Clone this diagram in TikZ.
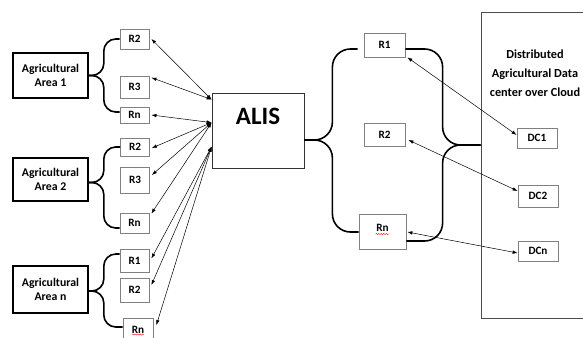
\documentclass[tikz,border=0pt]{standalone}
\usepackage{fontspec}
\setmainfont{Carlito}
\usetikzlibrary{arrows.meta,calc,decorations.pathmorphing}
\begin{document}
\begin{tikzpicture}[x=1pt,y=-1pt,
  areabox/.style={draw=black,line width=1.6pt,minimum width=75pt,minimum height=45pt,inner sep=0pt,align=center,font=\fontsize{11.8}{14}\selectfont\bfseries},
  rbox/.style={draw=black!50,line width=0.8pt,inner sep=0pt,font=\fontsize{11.2}{12}\selectfont\bfseries},
  bracepath/.style={line width=1.6pt,rounded corners=#1},
  bracepath/.default=12pt,
  linkarrow/.style={line width=0.5pt,{Latex[length=5pt,width=3.5pt]}-{Latex[length=5pt,width=3.5pt]}},
  squiggle/.style={red,line width=0.4pt,decorate,decoration={snake,amplitude=0.6pt,segment length=2.5pt}}
]
\clip (0,0) rectangle (583,337);
\fill[white] (0,0) rectangle (583,337);

% agricultural areas
\node[areabox] (ar1) at (50.5,75.5) {Agricultural\\Area 1};
\node[areabox,minimum height=43pt] (ar2) at (50.5,179.5) {Agricultural\\Area 2};
\node[areabox,minimum height=47pt] (arn) at (50.5,289.5) {Agricultural\\Area n};

% left R boxes
\node[rbox,minimum width=29pt,minimum height=20pt] (a1r2) at (134.5,39) {R2};
\node[rbox,minimum width=29pt,minimum height=22pt] (a1r3) at (134.5,87) {R3};
\node[rbox,minimum width=29pt,minimum height=16pt] (a1rn) at (134.5,115) {Rn};
\node[rbox,minimum width=29pt,minimum height=18pt] (a2r2) at (135,147) {R2};
\node[rbox,minimum width=29pt,minimum height=26pt] (a2r3) at (135,180) {R3};
\node[rbox,minimum width=29pt,minimum height=20pt] (a2rn) at (134.5,223) {Rn};
\node[rbox,minimum width=29pt,minimum height=23pt] (anr1) at (134.5,260.5) {R1};
\node[rbox,minimum width=29pt,minimum height=24pt] (anr2) at (134.5,290) {R2};
\node[rbox,minimum width=30pt,minimum height=24pt] (anrn) at (138,330) {Rn};
\draw[squiggle] ($(anrn.center)+(-6,4.5)$) -- ++(12,0);

% ALIS
\node[draw=black!80,line width=0.8pt,minimum width=92pt,inner sep=0pt,text height=31pt,text depth=44pt,font=\fontsize{25}{25}\selectfont\bfseries] (alis) at (258,130.5) {ALIS};

% right R boxes
\node[rbox,minimum width=41pt,minimum height=24pt] (rr1) at (384.5,45) {R1};
\node[rbox,minimum width=41pt,minimum height=23pt] (rr2) at (384.5,134.5) {R2};
\node[rbox,minimum width=47pt,text height=17pt,text depth=18pt] (rrn) at (382.5,231.5) {Rn};
\draw[squiggle] ($(rrn.center)+(-7,2.5)$) -- ++(14,0);

% cloud
\node[draw=black!70,line width=0.8pt,minimum width=119pt,minimum height=306pt,inner sep=0pt] (cloud) at (540.5,165) {};
\node[align=center,inner sep=0pt,font=\fontsize{12.3}{19}\selectfont\bfseries] (cloudtxt) at (535,73.5) {Distributed\\Agricultural Data\\center over Cloud};
\node[rbox,minimum width=40pt,minimum height=20pt] (dc1) at (537,138) {DC1};
\node[rbox,minimum width=40pt,minimum height=22pt] (dc2) at (538,196) {DC2};
\node[rbox,minimum width=40pt,minimum height=20pt] (dcn) at (538,251) {DCn};

% left braces
\coordinate (t1) at (ar1.east);
\coordinate (b1) at ($(t1)+(15,0)$);
\draw[bracepath] (a1r2.west) -| (b1) -- (t1);
\draw[bracepath] ($(a1rn.west)+(0,-3)$) -| (b1) -- (t1);
\coordinate (t2) at ($(ar2.east)+(0,3)$);
\coordinate (b2) at ($(t2)+(15,0)$);
\draw[bracepath] (a2r2.west) -| (b2) -- (t2);
\draw[bracepath] ($(a2rn.west)+(0,5)$) -| (b2) -- (t2);
\coordinate (t3) at ($(arn.east)+(0,1.5)$);
\coordinate (b3) at ($(t3)+(15,0)$);
\draw[bracepath] ($(anr1.west)+(0,-6.5)$) -| (b3) -- (t3);
\draw[bracepath] ($(anrn.west)+(0,-3)$) -| (b3) -- (t3);

% right braces
\coordinate (t4) at ($(alis.east)+(0,9.5)$);
\coordinate (c1) at ($(t4)+(28,0)$);
\draw[bracepath=18pt] ($(rr1.west)+(-6,4)$) -| (c1) -- (t4);
\draw[bracepath=18pt] ($(rrn.west)+(0,0.5)$) -| (c1) -- (t4);
\coordinate (t5) at ($(cloud.west)+(0,-20)$);
\coordinate (c2) at ($(t5)+(-38,0)$);
\draw[bracepath=18pt] ($(rr1.east)+(0,4)$) -| (c2) -- (t5);
\draw[bracepath=18pt] ($(rrn.east)+(0,9.5)$) -| (c2) -- (t5);

% ALIS entry points
\coordinate (p1) at ($(alis.north west)+(0,7)$);
\coordinate (p2) at ($(alis.north west)+(0,30)$);
\coordinate (p3) at ($(alis.north west)+(0,54)$);

% left links
\draw[linkarrow] ($(a1r2.east)+(2,0)$) -- (p1);
\draw[linkarrow] ($(a1r3.north east)+(2,2)$) -- (p1);
\draw[linkarrow] ($(a1rn.east)+(2,0)$) -- (p2);
\draw[linkarrow] ($(a2r2.east)+(2,1)$) -- (p2);
\draw[linkarrow] ($(a2r3.east)+(2,-5)$) -- (p2);
\draw[linkarrow] ($(a2rn.north east)+(2,1)$) -- (p2);
\draw[linkarrow] ($(anr1.east)+(2,-2)$) -- (p3);
\draw[linkarrow] ($(anr2.east)+(2,-5)$) -- (p3);
\draw[linkarrow] ($(anrn.east)+(3,-5)$) -- (p3);

% right links
\draw[linkarrow] ($(rr1.south east)+(2,0)$) -- ($(dc1.west)+(0,-3)$);
\draw[linkarrow] ($(rr2.east)+(3,5.5)$) -- ($(dc2.west)+(0,-5)$);
\draw[linkarrow] ($(rrn.east)+(1,0.5)$) -- ($(dcn.west)+(0,2)$);
\end{tikzpicture}
\end{document}
